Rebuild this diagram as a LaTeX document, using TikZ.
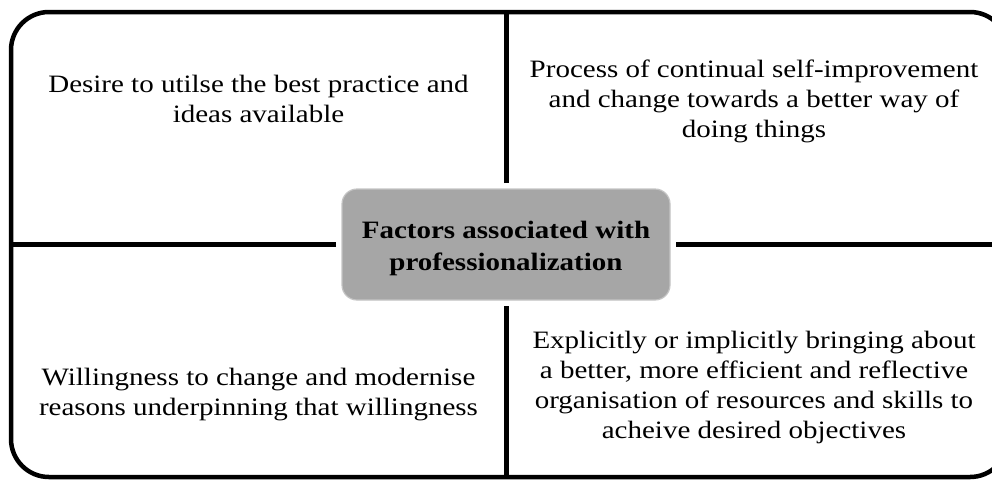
\documentclass[tikz,border=0pt]{standalone}
\usepackage{fontspec}
\setmainfont[FakeStretch=1.16]{Liberation Serif}
\definecolor{boxgray}{HTML}{A6A6A6}
\definecolor{boxedge}{HTML}{C4C4C4}
\begin{document}
\begin{tikzpicture}[x=1pt,y=-1pt,
  txt/.style={font=\fontsize{25}{30}\selectfont, align=center, inner sep=0pt, anchor=base},
  divider/.style={line width=5pt, shorten <=6pt}]
\useasboundingbox (0,0) rectangle (992,480);
\clip (0,0) rectangle (992,480);
\node[draw, line width=4.5pt, rounded corners=38pt, minimum width=997pt, minimum height=465pt, outer sep=0pt, inner sep=0pt] (frame) at (509.5,244.5) {};
\node[fill=boxgray, draw=boxedge, line width=1.2pt, rounded corners=15pt, minimum width=328pt, minimum height=111pt, outer sep=0pt, inner sep=0pt] (box) at (506,244.5) {};
\node[txt, font=\bfseries\fontsize{25}{32}\selectfont] (boxtext) at (506,270) {Factors associated with\\professionalization};
\draw[divider] (box.north) -- (box.north |- frame.north);
\draw[divider] (box.south) -- (box.south |- frame.south);
\draw[divider] (box.west) -- (box.west -| frame.west);
\draw[divider] (box.east) -- (box.east -| frame.east);
\node[txt] (tl) at (258.5,122) {Desire to utilse the best practice and\\ideas available};
\node[txt] (tr) at (754,137) {Process of continual self-improvement\\and change towards a better way of\\doing things};
\node[txt] (bl) at (258.5,415) {Willingness to change and modernise\\reasons underpinning that willingness};
\node[txt] (br) at (754,438) {Explicitly or implicitly bringing about\\a better, more efficient and reflective\\organisation of resources and skills to\\acheive desired objectives};
\end{tikzpicture}
\end{document}
